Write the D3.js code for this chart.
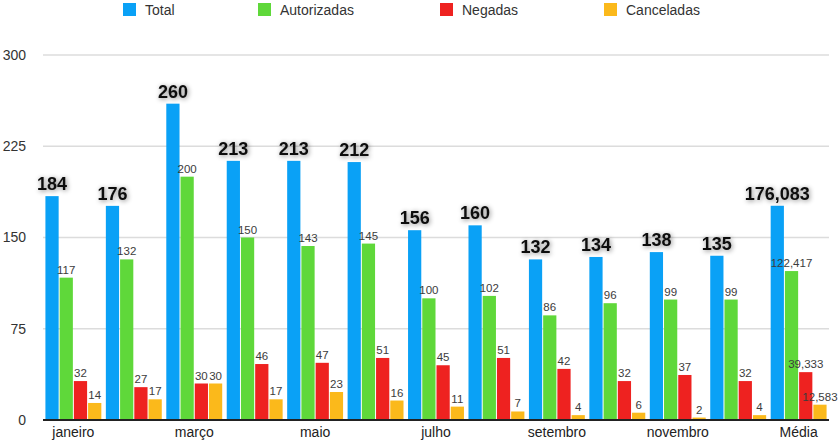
<!DOCTYPE html>
<html>
<head>
<meta charset="utf-8">
<script src="https://cdn.jsdelivr.net/npm/d3@7"></script>
<style>
  body { margin: 0; background: #fff; }
  text { font-family: "Liberation Sans", Arial, sans-serif; }
</style>
</head>
<body>
<svg width="839" height="444"></svg>
<script>
const months = ["janeiro", "fevereiro", "março", "abril", "maio", "junho", "julho",
  "agosto", "setembro", "outubro", "novembro", "dezembro", "Média"];
const seriesNames = ["Total", "Autorizadas", "Negadas", "Canceladas"];
const total = [184, 176, 260, 213, 213, 212, 156, 160, 132, 134, 138, 135, 176.083];
const autorizadas = [117, 132, 200, 150, 143, 145, 100, 102, 86, 96, 99, 99, 122.417];
const negadas = [32, 27, 30, 46, 47, 51, 45, 51, 42, 32, 37, 32, 39.333];
const canceladas = [14, 17, 30, 17, 23, 16, 11, 7, 4, 6, 2, 4, 12.583];
const yTicks = [0, 75, 150, 225, 300];
const colors = ["#0aa1f6", "#5fd83a", "#ee2220", "#fbb91b"];

const values = [total, autorizadas, negadas, canceladas];
const rows = months.map((m, i) => ({
  month: m,
  vals: seriesNames.map((s, j) => ({ key: s, idx: j, v: values[j][i] }))
}));

const svg = d3.select("svg");

// number format with comma as decimal mark, like the original
const fmt = v => Number.isInteger(v) ? String(v) : v.toFixed(3).replace(".", ",");

const x = d3.scaleBand()
  .domain(months)
  .range([43, 829])
  .paddingInner(0.075)
  .paddingOuter(0.04);

const xSub = d3.scaleBand()
  .domain(seriesNames)
  .range([0, x.bandwidth()])
  .paddingInner(0.07);

const y = d3.scaleLinear()
  .domain([0, 300])
  .range([420, 55]);

// shadow filter for the Total labels
const defs = svg.append("defs");
const f = defs.append("filter").attr("id", "glow")
  .attr("x", "-30%").attr("y", "-50%").attr("width", "160%").attr("height", "200%");
f.append("feGaussianBlur").attr("in", "SourceAlpha").attr("stdDeviation", 2.6).attr("result", "b");
f.append("feOffset").attr("in", "b").attr("dx", 1).attr("dy", 1).attr("result", "o");
f.append("feComponentTransfer").attr("in", "o").attr("result", "s")
  .append("feFuncA").attr("type", "linear").attr("slope", 0.5);
const fm = f.append("feMerge");
fm.append("feMergeNode").attr("in", "s");
fm.append("feMergeNode").attr("in", "SourceGraphic");

// grid lines
svg.append("g")
  .selectAll("line")
  .data(yTicks.filter(d => d > 0))
  .join("line")
  .attr("x1", 43).attr("x2", 829)
  .attr("y1", d => y(d)).attr("y2", d => y(d))
  .attr("stroke", "#dcdcdc")
  .attr("stroke-width", 1.5);

// y axis labels
const yAxis = svg.append("g")
  .attr("transform", "translate(26,0)")
  .call(d3.axisLeft(y).tickValues(yTicks).tickSize(0).tickPadding(0));
yAxis.select(".domain").remove();
yAxis.selectAll("text")
  .attr("font-size", 14)
  .attr("fill", "#333")
  .attr("font-family", "Liberation Sans, Arial, sans-serif");

// bars
const groups = svg.append("g")
  .selectAll("g")
  .data(rows)
  .join("g")
  .attr("transform", d => `translate(${x(d.month)},0)`);

groups.selectAll("rect")
  .data(d => d.vals)
  .join("rect")
  .attr("x", d => xSub(d.key))
  .attr("y", d => y(d.v))
  .attr("width", xSub.bandwidth())
  .attr("height", d => y(0) - y(d.v))
  .attr("fill", d => colors[d.idx]);

// small value labels
groups.selectAll("text.small")
  .data(d => d.vals.filter(v => v.idx > 0))
  .join("text")
  .attr("class", "small")
  .attr("x", d => xSub(d.key) + xSub.bandwidth() / 2)
  .attr("y", d => y(d.v) - 4)
  .attr("text-anchor", "middle")
  .attr("font-size", 11.5)
  .attr("fill", "#3c3c3c")
  .text(d => fmt(d.v));

// big Total labels
groups.selectAll("text.big")
  .data(d => d.vals.filter(v => v.idx === 0))
  .join("text")
  .attr("class", "big")
  .attr("x", d => xSub(d.key) + xSub.bandwidth() / 2)
  .attr("y", d => y(d.v) - 6)
  .attr("text-anchor", "middle")
  .attr("font-size", 18)
  .attr("font-weight", "bold")
  .attr("fill", "#111")
  .attr("filter", "url(#glow)")
  .text(d => fmt(d.v));

// baseline
svg.append("line")
  .attr("x1", 43).attr("x2", 829)
  .attr("y1", y(0)).attr("y2", y(0))
  .attr("stroke", "#222")
  .attr("stroke-width", 2);

// x axis labels (every other month)
const xAxis = svg.append("g")
  .attr("transform", `translate(0,${y(0)})`)
  .call(d3.axisBottom(x).tickValues(months.filter((m, i) => i % 2 === 0)).tickSize(0).tickPadding(7));
xAxis.select(".domain").remove();
xAxis.selectAll("text")
  .attr("font-size", 14)
  .attr("fill", "#222")
  .attr("font-family", "Liberation Sans, Arial, sans-serif");

// legend
const legendX = [123, 258, 440, 604];
const legend = svg.append("g")
  .selectAll("g")
  .data(seriesNames)
  .join("g")
  .attr("transform", (d, i) => `translate(${legendX[i]},3)`);
legend.append("rect")
  .attr("width", 13).attr("height", 13)
  .attr("fill", (d, i) => colors[i]);
legend.append("text")
  .attr("x", 22).attr("y", 12)
  .attr("font-size", 14)
  .attr("fill", "#333")
  .text(d => d);
</script>
</body>
</html>
